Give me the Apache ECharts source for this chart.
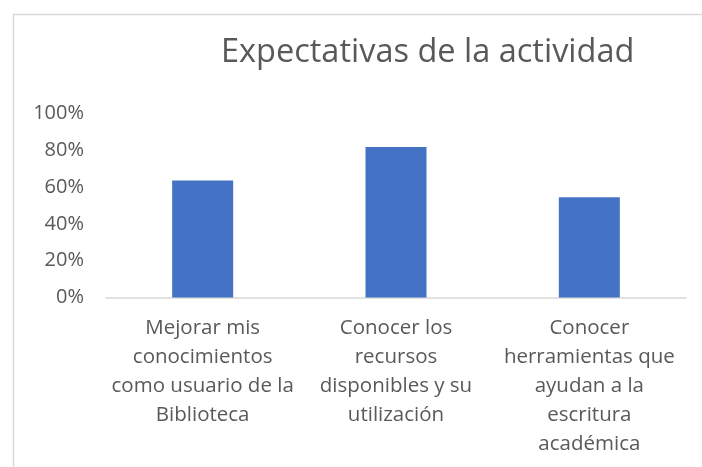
<!DOCTYPE html>
<html>
<head>
<meta charset="utf-8">
<script src="https://cdn.jsdelivr.net/npm/echarts@6/dist/echarts.min.js"></script>
<style>
  html, body { margin: 0; padding: 0; background: #fff; }
  #chart { width: 702px; height: 467px; }
</style>
</head>
<body>
<div id="chart"></div>
<script>
// datos
const categorias = [
  "Mejorar mis\nconocimientos\ncomo usuario de la\nBiblioteca",
  "Conocer los\nrecursos\ndisponibles y su\nutilización",
  "Conocer\nherramientas que\nayudan a la\nescritura\nacadémica"
];
const valores = [0.636, 0.818, 0.545];
const ticksY = [0, 0.2, 0.4, 0.6, 0.8, 1];

const myChart = echarts.init(document.getElementById("chart"));
const option = {
  animation: false,
  textStyle: { fontFamily: "Open Sans" },
  title: {
    text: "Expectativas de la actividad",
    left: 216,
    top: 31,
    textStyle: {
      fontFamily: "Open Sans",
      fontSize: 32.5,
      fontWeight: "normal",
      color: "#595959"
    }
  },
  graphic: [
    {
      // borde del área del gráfico
      type: "rect",
      shape: { x: 13.5, y: 14.5, width: 760, height: 500 },
      style: { fill: "none", stroke: "#d9d9d9", lineWidth: 1.5 },
      silent: true
    }
  ],
  grid: {
    left: 106,
    right: 16,
    top: 113.5,
    bottom: 169.5
  },
  xAxis: {
    type: "category",
    data: categorias,
    axisTick: { show: false },
    axisLine: { lineStyle: { color: "#d9d9d9", width: 1.5 } },
    axisLabel: {
      interval: 0,
      margin: 16,
      fontSize: 20.5,
      lineHeight: 29,
      color: "#595959",
      fontFamily: "Open Sans"
    }
  },
  yAxis: {
    type: "value",
    min: ticksY[0],
    max: ticksY[ticksY.length - 1],
    interval: 0.2,
    splitLine: { show: false },
    axisLine: { show: false },
    axisTick: { show: false },
    axisLabel: {
      margin: 22,
      fontSize: 20,
      color: "#595959",
      fontFamily: "Open Sans",
      formatter: function (v) { return Math.round(v * 100) + "%"; }
    }
  },
  series: [
    {
      type: "bar",
      data: valores,
      barWidth: 61,
      itemStyle: { color: "#4472C4" }
    }
  ]
};
myChart.setOption(option);
</script>
</body>
</html>
